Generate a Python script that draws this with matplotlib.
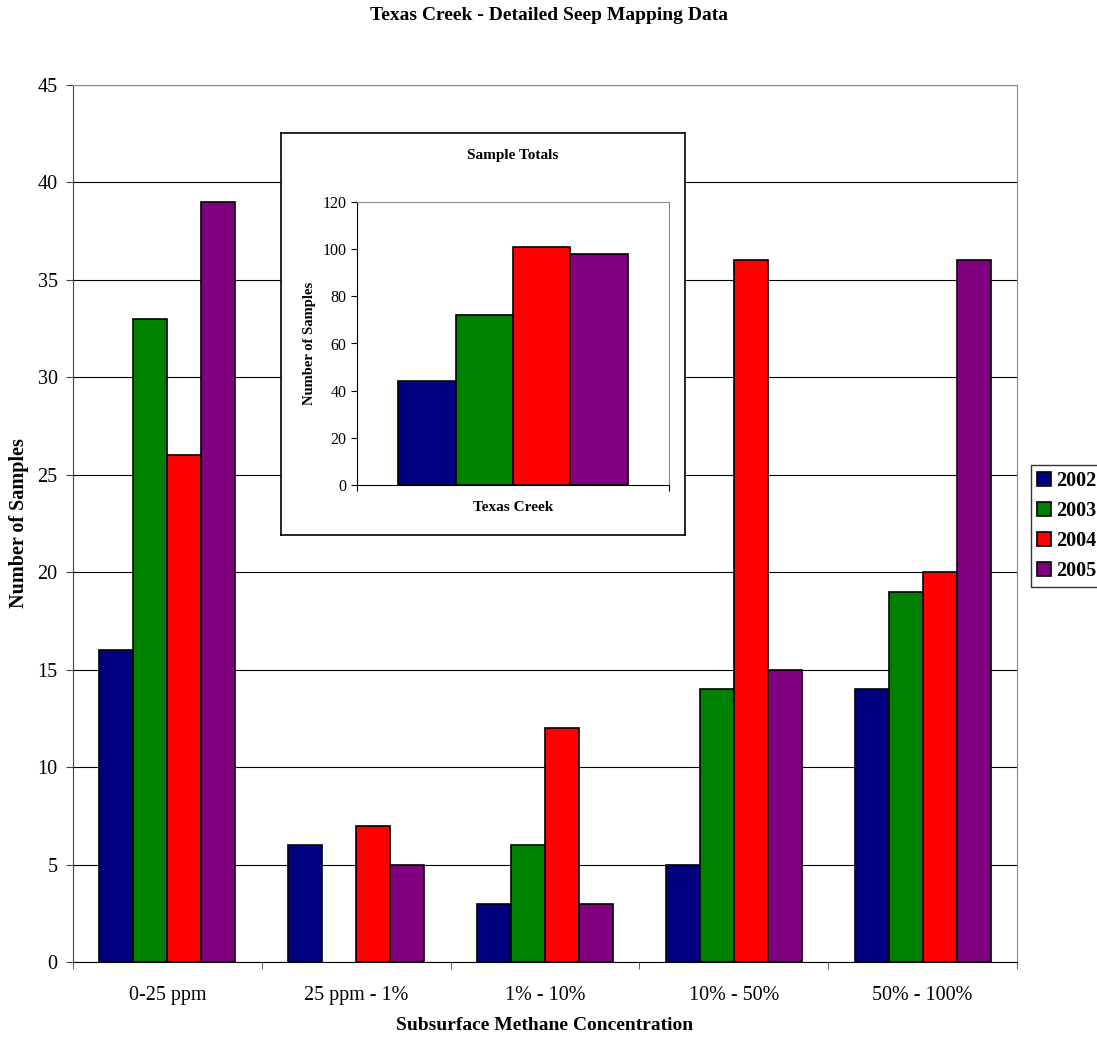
import numpy as np
import matplotlib
matplotlib.use("Agg")
import matplotlib.pyplot as plt

plt.rcParams['font.family'] = ['Liberation Serif', 'DejaVu Serif']

# data
categories = ['0-25 ppm', '25 ppm - 1%', '1% - 10%', '10% - 50%', '50% - 100%']
years = ['2002', '2003', '2004', '2005']
counts_2002 = [16, 6, 3, 5, 14]
counts_2003 = [33, 0, 6, 14, 19]
counts_2004 = [26, 7, 12, 36, 20]
counts_2005 = [39, 5, 3, 15, 36]
totals = [44, 72, 101, 98]
colors = ['#000080', '#008000', '#ff0000', '#800080']

series = [counts_2002, counts_2003, counts_2004, counts_2005]

W, H = 1097, 1037
fig = plt.figure(figsize=(W / 100, H / 100), dpi=100)

def fbox(x0, y0, x1, y1):
    return [x0 / W, 1 - y1 / H, (x1 - x0) / W, (y1 - y0) / H]

# main chart
ax = fig.add_axes(fbox(73, 85, 1017, 962))
x = np.arange(len(categories))
bw = 0.18
for i, (vals, c) in enumerate(zip(series, colors)):
    vals = np.array(vals)
    # zero counts get no bar outline
    lws = [1.2 if v > 0 else 0 for v in vals]
    ax.bar(x - 1.5 * bw + i * bw, vals, width=bw, color=c, edgecolor='black',
           linewidth=lws, label=years[i], zorder=3)

ax.set_xlim(-0.5, len(categories) - 0.5)
ax.set_ylim(0, 45)
ax.set_yticks(np.arange(0, 46, 5))
ax.yaxis.grid(True, color='black', linewidth=0.8, zorder=0)
ax.set_xticks(x)
ax.set_xticklabels(categories, fontsize=14.5)
ax.tick_params(axis='x', which='major', length=0, pad=17)
ax.set_xticks(np.arange(-0.5, len(categories)), minor=True)
ax.tick_params(axis='x', which='minor', length=5, direction='out', color='#444444')
ax.tick_params(axis='y', labelsize=14.5, length=5, direction='out', color='#444444', pad=6)
ax.spines['top'].set_color('#888888')
ax.spines['right'].set_color('#888888')
ax.spines['left'].set_color('#444444')
ax.set_xlabel('Subsurface Methane Concentration', fontsize=14, fontweight='bold', labelpad=9)
ax.set_ylabel('Number of Samples', fontsize=14.5, fontweight='bold', labelpad=6)

fig.text(0.5, 1 - 15 / H, 'Texas Creek - Detailed Seep Mapping Data', ha='center',
         va='center', fontsize=14, fontweight='bold')

leg = ax.legend(loc='upper left', bbox_to_anchor=(1031 / W, 1 - 465 / H),
                bbox_transform=fig.transFigure, frameon=True, fancybox=False,
                prop={'weight': 'bold', 'size': 14.5}, handlelength=0.7,
                handleheight=0.7, handletextpad=0.25, borderpad=0.3,
                labelspacing=0.5, borderaxespad=0)
leg.get_frame().set_edgecolor('black')
leg.get_frame().set_linewidth(1.0)

# inset box
box = fig.add_axes(fbox(281, 133, 685, 535))
box.set_xticks([])
box.set_yticks([])
box.set_facecolor('white')
for s in box.spines.values():
    s.set_color('black')
    s.set_linewidth(1.2)
box.set_zorder(5)

ins = fig.add_axes(fbox(357, 202, 669, 485))
ins.set_zorder(6)
ibw = 0.1835
for i, (v, c) in enumerate(zip(totals, colors)):
    ins.bar(0.5 - 1.5 * ibw + i * ibw, v, width=ibw, color=c, edgecolor='black', linewidth=1.2)
ins.set_xlim(0, 1)
ins.set_ylim(0, 120)
ins.set_yticks(np.arange(0, 121, 20))
ins.set_xticks([0, 1])
ins.set_xticklabels([])
ins.tick_params(axis='both', labelsize=11.5, length=4, direction='out')
ins.spines['top'].set_color('#888888')
ins.spines['right'].set_color('#888888')
ins.set_xlabel('Texas Creek', fontsize=11, fontweight='bold', labelpad=4)
ins.set_ylabel('Number of Samples', fontsize=10.5, fontweight='bold', labelpad=5)
ins.set_title('Sample Totals', fontsize=11, fontweight='bold', pad=31)

fig.savefig('out.png', dpi=100)
